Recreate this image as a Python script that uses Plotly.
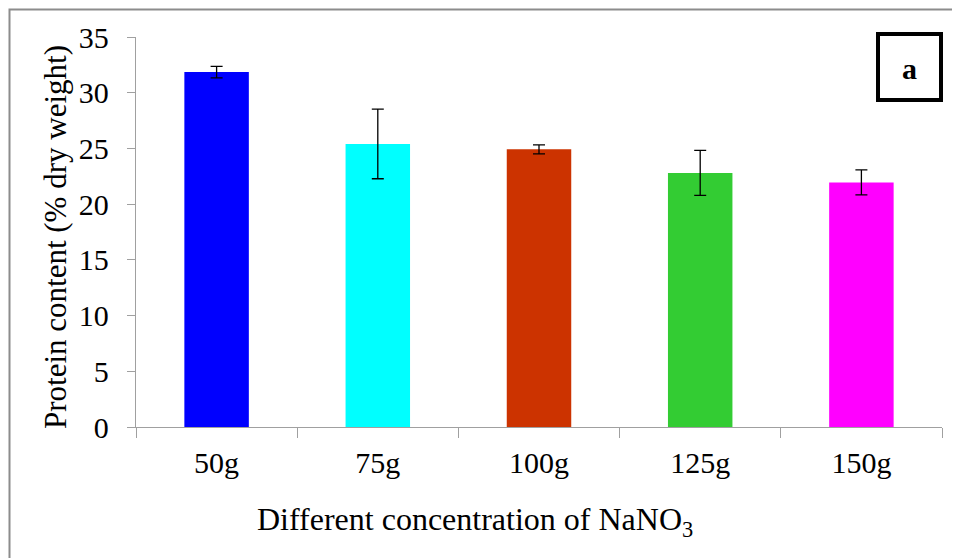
import plotly.graph_objects as go

categories = ["50g", "75g", "100g", "125g", "150g"]
protein = [31.85, 25.4, 24.92, 22.8, 21.95]
errors = [0.52, 3.12, 0.4, 2.02, 1.12]
colors = ["#0000FF", "#00FFFF", "#CC3300", "#33CC33", "#FF00FF"]
y_ticks = [0, 5, 10, 15, 20, 25, 30, 35]

FONT = "Liberation Serif"
OFF = 8  # page body margin offset
W, H = 960 - OFF, 558 - OFF
L, R, T, B = 136 - OFF, 942 - OFF, 37 - OFF, 427 - OFF
PW, PH = R - L, B - T

def px(x):
    return (x - OFF - L) / PW

def py(y):
    return (B - (y - OFF)) / PH

fig = go.Figure()
fig.add_trace(go.Bar(
    x=categories, y=protein,
    marker=dict(color=colors, line=dict(width=0)),
    width=0.4,
    error_y=dict(type="data", array=errors, visible=True, color="#000000", thickness=1.3, width=6),
    showlegend=False,
))

fig.update_layout(
    width=W, height=H,
    margin=dict(l=L, r=W - R, t=T, b=H - B, autoexpand=False),
    paper_bgcolor="white", plot_bgcolor="white",
    font=dict(family=FONT, size=30, color="#000000"),
    xaxis=dict(
        showline=True, linecolor="#a0a0a0", linewidth=1.3,
        ticks="outside", ticklen=10, tickcolor="#a0a0a0", tickwidth=1.3,
        tickson="boundaries", showgrid=False, zeroline=False,
        tickfont=dict(family=FONT, size=30),
        ticklabelstandoff=9, automargin=False,
    ),
    yaxis=dict(
        range=[0, 35], tickvals=y_ticks,
        showline=True, linecolor="#a0a0a0", linewidth=1.3,
        ticks="outside", ticklen=8, tickcolor="#a0a0a0", tickwidth=1.3,
        showgrid=False, zeroline=False,
        tickfont=dict(family=FONT, size=30),
        ticklabelstandoff=12, automargin=False,
    ),
    shapes=[
        dict(type="rect", xref="paper", yref="paper",
             x0=px(9.5), x1=px(975), y0=py(575), y1=py(9.5),
             line=dict(color="#8c8c8c", width=2), layer="below"),
        dict(type="rect", xref="paper", yref="paper",
             x0=px(878), x1=px(941), y0=py(100), y1=py(34),
             line=dict(color="#000000", width=4), fillcolor="white"),
    ],
    annotations=[
        dict(text="<b>a</b>", xref="paper", yref="paper",
             x=px(909.5), y=py(68), showarrow=False,
             font=dict(family=FONT, size=30), xanchor="center", yanchor="middle"),
        dict(text="Different concentration of NaNO<sub>3</sub>", xref="paper", yref="paper",
             x=px(475), y=py(521), showarrow=False,
             font=dict(family=FONT, size=32), xanchor="center", yanchor="middle"),
        dict(text="Protein content (% dry weight)", xref="paper", yref="paper",
             x=px(56), y=py(237), showarrow=False, textangle=-90,
             font=dict(family=FONT, size=31), xanchor="center", yanchor="middle"),
    ],
)

fig.write_html("out.html")
